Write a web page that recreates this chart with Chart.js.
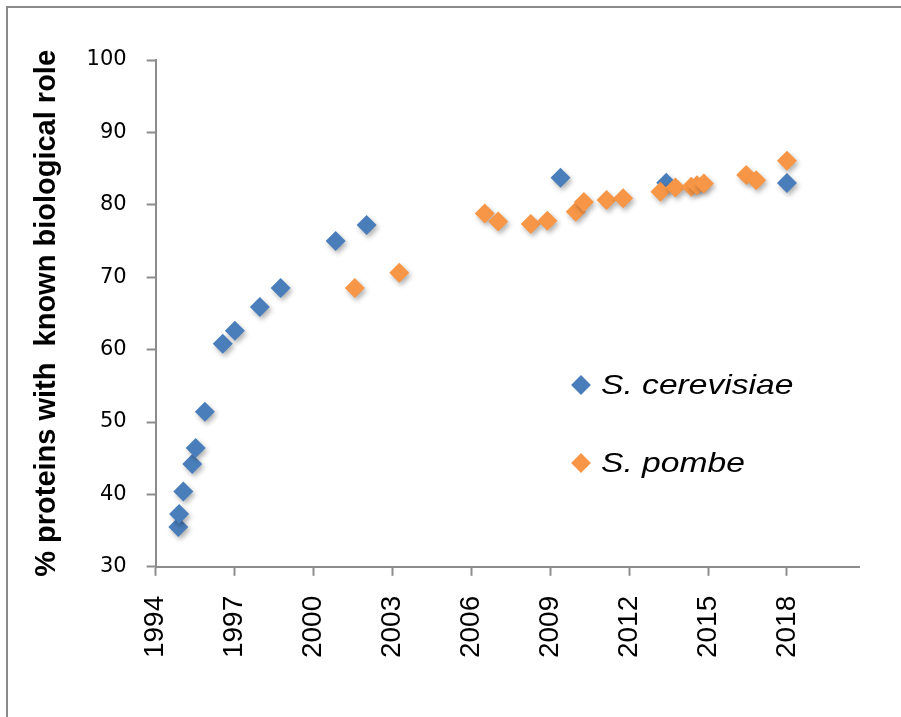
<!DOCTYPE html>
<html>
<head>
<meta charset="utf-8">
<script src="https://cdn.jsdelivr.net/npm/chart.js@4/dist/chart.umd.min.js"></script>
<style>
  body { margin: 0; background: #fff; }
  #wrap { position: relative; width: 901px; height: 717px; }
  .leg { position: absolute; left: 571px; height: 30px; display: flex; align-items: center;
         font-family: "Liberation Sans", Arial, sans-serif; font-style: italic; font-size: 28px; color: #000; }
  .leg .mk { width: 14px; height: 14px; transform: rotate(45deg); margin: 0 13px 0 3px; }
  .leg span { display: inline-block; transform: scaleX(1.2); transform-origin: left center; }
</style>
</head>
<body>
<div id="wrap">
  <canvas id="myChart" width="901" height="717"></canvas>
</div>
<script>
// S. cerevisiae
var cerYears = [1994.86, 1994.89, 1995.05, 1995.39, 1995.52, 1995.87, 1996.55, 1997.01, 1997.96, 1998.75, 2000.84, 2002.02, 2009.39, 2013.41, 2018.0];
var cerPct   = [35.5, 37.3, 40.4, 44.2, 46.4, 51.4, 60.8, 62.6, 65.9, 68.5, 75.0, 77.2, 83.75, 83.05, 83.0];

// S. pombe
var pomYears = [2001.57, 2003.26, 2006.51, 2007.02, 2008.26, 2008.89, 2009.97, 2010.28, 2011.14, 2011.77, 2013.19, 2013.76, 2014.36, 2014.58, 2014.84, 2016.45, 2016.83, 2018.0];
var pomPct   = [68.5, 70.6, 78.8, 77.7, 77.35, 77.8, 79.05, 80.4, 80.65, 80.9, 81.8, 82.4, 82.5, 82.7, 82.95, 84.1, 83.4, 86.1];

var xTicks = [1994, 1997, 2000, 2003, 2006, 2009, 2012, 2015, 2018];
var yTicks = [30, 40, 50, 60, 70, 80, 90, 100];

var blue = '#4a7ebb';
var orange = '#f79646';
var axisGray = '#8c8c8c';

function toXY(xs, ys) {
  return xs.map((x, i) => ({x: x, y: ys[i]}));
}

// grey frame on top and left like the slide border
var framePlugin = {
  id: 'frame',
  beforeDraw(chart) {
    var ctx = chart.ctx;
    ctx.save();
    ctx.fillStyle = '#8a8a8a';
    ctx.fillRect(6, 6, chart.width - 6, 2);
    ctx.fillRect(6, 6, 2, chart.height - 6);
    ctx.restore();
  }
};

// soft drop shadow under the markers
var shadowPlugin = {
  id: 'shadow',
  beforeDatasetsDraw(chart) {
    var ctx = chart.ctx;
    ctx.save();
    ctx.shadowColor = 'rgba(0,0,0,0.3)';
    ctx.shadowBlur = 5;
    ctx.shadowOffsetX = 2;
    ctx.shadowOffsetY = 3;
  },
  afterDatasetsDraw(chart) {
    chart.ctx.restore();
  }
};

var ctx = document.getElementById('myChart').getContext('2d');

var chart = new Chart(ctx, {
  type: 'scatter',
  data: {
    datasets: [{
      label: 'S. cerevisiae',
      data: toXY(cerYears, cerPct),
      backgroundColor: blue,
      borderWidth: 0,
      pointStyle: 'rectRot',
      pointRadius: 10,
      pointHoverRadius: 10,
      order: 1
    }, {
      label: 'S. pombe',
      data: toXY(pomYears, pomPct),
      backgroundColor: orange,
      borderWidth: 0,
      pointStyle: 'rectRot',
      pointRadius: 10,
      pointHoverRadius: 10,
      order: 0
    }]
  },
  options: {
    responsive: false,
    animation: false,
    events: [],
    layout: { padding: { left: 0, top: 60, right: 41.7, bottom: 0 } },
    plugins: {
      legend: { display: false },
      tooltip: { enabled: false }
    },
    scales: {
      x: {
        type: 'linear',
        min: 1994,
        max: 2020.75,
        afterBuildTicks: s => { s.ticks = xTicks.map(v => ({value: v})); },
        afterFit: s => { s.height = 150.2; },
        grid: { drawOnChartArea: false, drawTicks: true, tickLength: 9, tickColor: axisGray, tickWidth: 2 },
        border: { display: true, color: axisGray, width: 2 },
        ticks: {
          minRotation: 90, maxRotation: 90, padding: 20, color: '#000',
          font: { family: 'Liberation Sans', size: 28 },
          callback: v => String(v)
        }
      },
      y: {
        min: 30,
        max: 100,
        afterBuildTicks: s => { s.ticks = yTicks.map(v => ({value: v})); },
        afterFit: s => { s.width = 155.7; },
        grid: { drawOnChartArea: false, drawTicks: true, tickLength: 9, tickColor: axisGray, tickWidth: 2 },
        border: { display: true, color: axisGray, width: 2 },
        ticks: {
          padding: 20, color: '#000',
          font: { family: 'DejaVu Sans', size: 21 },
          callback: v => String(v)
        },
        title: {
          display: true,
          text: '% proteins with  known biological role',
          color: '#000',
          padding: { top: 30, bottom: 0 },
          font: { family: 'Liberation Sans', size: 29, weight: 'bold' }
        }
      }
    }
  },
  plugins: [framePlugin, shadowPlugin]
});

// legend placed inside the plot, as in the original
var legendTops = [370, 448];
chart.data.datasets.forEach((ds, i) => {
  var row = document.createElement('div');
  row.className = 'leg';
  row.style.top = legendTops[i] + 'px';
  var mk = document.createElement('div');
  mk.className = 'mk';
  mk.style.background = ds.backgroundColor;
  var txt = document.createElement('span');
  txt.textContent = ds.label;
  row.appendChild(mk);
  row.appendChild(txt);
  document.getElementById('wrap').appendChild(row);
});
</script>
</body>
</html>
